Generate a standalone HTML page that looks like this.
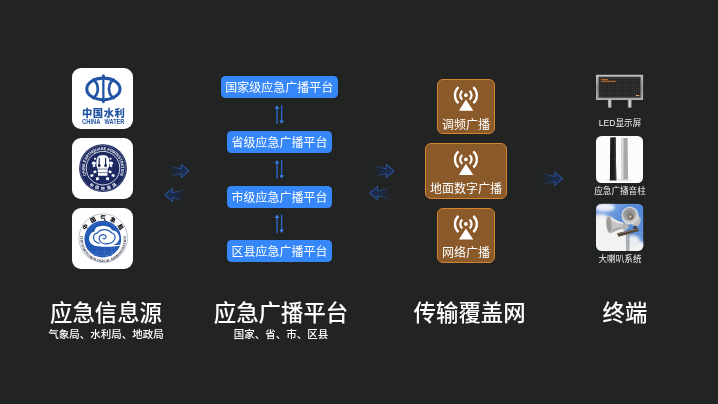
<!DOCTYPE html>
<html lang="zh-CN">
<head>
<meta charset="utf-8">
<title>应急广播体系</title>
<style>
html,body{margin:0;padding:0;}
body{width:718px;height:404px;background:#222424;overflow:hidden;position:relative;
  font-family:"Liberation Sans","Noto Sans CJK SC",sans-serif;color:#fff;}
#stage{position:absolute;left:0;top:0;width:718px;height:404px;will-change:transform;}
.abs{position:absolute;}
.tile{position:absolute;background:#fff;border-radius:9px;overflow:hidden;}
.bbox{position:absolute;height:21.7px;line-height:24.4px;background:#3687f9;border-radius:4.5px;
  font-size:12px;text-align:center;color:#fff;white-space:nowrap;}
.obox{position:absolute;box-sizing:border-box;background:#8b5a2b;border:1.2px solid #d6842f;border-radius:6px;}
.obox .lbl{position:absolute;left:0;right:0;text-align:center;font-size:12px;line-height:14px;white-space:nowrap;color:#fff;}
.obox svg{position:absolute;}
.tlabel{position:absolute;font-size:8.6px;line-height:10px;font-weight:400;text-align:center;white-space:nowrap;color:#f2f2f2;}
.h1{position:absolute;font-size:22.4px;line-height:26px;text-align:center;white-space:nowrap;font-weight:500;color:#fff;}
.h2{position:absolute;font-size:10.5px;line-height:13px;text-align:center;white-space:nowrap;color:#fff;font-weight:500;}
</style>
</head>
<body>
<div id="stage">

<!-- ===== column 1 : source logos ===== -->
<div class="tile" id="t1" style="left:72px;top:67.6px;width:61.2px;height:61px;"></div>
<div class="tile" id="t2" style="left:72px;top:137.8px;width:61.2px;height:60.9px;"></div>
<div class="tile" id="t3" style="left:72px;top:207.5px;width:61.2px;height:61.3px;"></div>

<!-- ===== column 2 : platform boxes ===== -->
<div class="bbox" style="left:220.7px;top:76.2px;width:117.3px;">国家级应急广播平台</div>
<div class="bbox" style="left:226.7px;top:131.2px;width:105.4px;">省级应急广播平台</div>
<div class="bbox" style="left:226.7px;top:185.9px;width:105.4px;">市级应急广播平台</div>
<div class="bbox" style="left:226.7px;top:240.2px;width:105.4px;">区县应急广播平台</div>

<!-- ===== column 3 : transmission ===== -->
<div class="obox" style="left:437.1px;top:79px;width:57.6px;height:55.3px;"><div class="lbl" style="top:37.5px;">调频广播</div></div>
<div class="obox" style="left:425.3px;top:143px;width:81.4px;height:55.7px;"><div class="lbl" style="top:37.5px;">地面数字广播</div></div>
<div class="obox" style="left:437.1px;top:207.5px;width:57.6px;height:55.6px;"><div class="lbl" style="top:37.8px;">网络广播</div></div>

<!-- ===== column 4 : terminals ===== -->
<div class="tlabel" style="left:580px;width:80px;top:117.5px;">LED显示屏</div>
<div class="tile" id="e2" style="left:596px;top:135.7px;width:47.4px;height:47.4px;border-radius:5.5px;background:#fcfcfc;"></div>
<div class="tlabel" style="left:580px;width:80px;top:185.6px;">应急广播音柱</div>
<div class="tlabel" style="left:580px;width:80px;top:254.3px;">大喇叭系统</div>

<!-- ===== headings ===== -->
<div class="h1" style="left:26px;width:160px;top:301px;">应急信息源</div>
<div class="h2" style="left:26px;width:160px;top:328px;">气象局、水利局、地政局</div>
<div class="h1" style="left:201px;width:160px;top:301px;">应急广播平台</div>
<div class="h2" style="left:201px;width:160px;top:328px;">国家、省、市、区县</div>
<div class="h1" style="left:389.6px;width:160px;top:301px;">传输覆盖网</div>
<div class="h1" style="left:545px;width:160px;top:301px;">终端</div>

<!-- ===== vector overlay ===== -->
<svg class="abs" id="ov" style="left:0;top:0;" width="718" height="404" viewBox="0 0 718 404">
<defs>
  <linearGradient id="gf" x1="0" y1="0" x2="1" y2="0">
    <stop offset="0.06" stop-color="#1c273e" stop-opacity="0"/>
    <stop offset="0.32" stop-color="#1c273e" stop-opacity="0.6"/>
    <stop offset="0.6" stop-color="#1c2a48" stop-opacity="1"/>
    <stop offset="1" stop-color="#1d2f56" stop-opacity="1"/>
  </linearGradient>
  <linearGradient id="gs" x1="0" y1="0" x2="1" y2="0">
    <stop offset="0" stop-color="#2b62c4" stop-opacity="0.05"/>
    <stop offset="0.18" stop-color="#2b62c4" stop-opacity="0.3"/>
    <stop offset="0.45" stop-color="#2b62c4" stop-opacity="0.7"/>
    <stop offset="0.64" stop-color="#2d68cf" stop-opacity="0.9"/>
    <stop offset="1" stop-color="#3070de" stop-opacity="1"/>
  </linearGradient>
  <g id="harrow">
    <path d="M2,2.1 Q9,4.9 15.3,5.7 L15.3,1.2 L23,7.9 L15.3,14.6 L15.3,10.7 Q9,11.6 2,14.6 Z" fill="url(#gf)" stroke="none"/>
    <path d="M2,2.1 Q9,4.9 15.3,5.7 L15.3,1.2 L23,7.9 L15.3,14.6 L15.3,10.7 Q9,11.6 2,14.6" fill="none" stroke="url(#gs)" stroke-width="0.8" stroke-linejoin="miter"/>
    <g fill="#3a5f9e" fill-opacity="0.35">
      <circle cx="3.2" cy="4.6" r="0.35"/><circle cx="4.6" cy="6.6" r="0.35"/><circle cx="3.6" cy="8.6" r="0.35"/>
      <circle cx="4.8" cy="10.6" r="0.35"/><circle cx="3.2" cy="12.4" r="0.35"/><circle cx="6.4" cy="5.4" r="0.35"/>
      <circle cx="6.6" cy="8" r="0.35"/><circle cx="6.4" cy="11" r="0.35"/><circle cx="8.4" cy="6.6" r="0.35"/>
      <circle cx="8.6" cy="9.6" r="0.35"/><circle cx="10.4" cy="7.4" r="0.35"/><circle cx="10.6" cy="9.4" r="0.35"/>
      <circle cx="12.4" cy="8.2" r="0.35"/><circle cx="1.6" cy="2.4" r="0.35"/><circle cx="1.4" cy="14.2" r="0.35"/>
    </g>
  </g>
  <g id="varrow" stroke="none">
    <rect x="-0.7" y="1.5" width="1.4" height="17" fill="#2c63c0"/>
    <path d="M0,0 L2.3,3.4 L-2.3,3.4 Z" fill="#3b82ee"/>
  </g>
  <g id="ant" fill="none" stroke="#fff" stroke-linecap="butt">
    <circle cx="0" cy="0" r="1.9" fill="#fff" stroke="none"/>
    <path d="M-0.2,4.4 L7.2,15.6 L-7.2,15.6 Z" fill="#fff" stroke="none" transform="translate(0.2,0)"/>
    <path d="M-3.6,-4.4 A5.7,5.7 0 0 0 -3.6,4.4" stroke-width="2.2"/>
    <path d="M3.6,-4.4 A5.7,5.7 0 0 1 3.6,4.4" stroke-width="2.2"/>
    <path d="M-7.4,-8 A10.9,10.9 0 0 0 -7.4,8" stroke-width="2.4"/>
    <path d="M7.4,-8 A10.9,10.9 0 0 1 7.4,8" stroke-width="2.4"/>
  </g>
</defs>

<!-- vertical double arrows between platform boxes -->
<g id="varrows">
  <use href="#varrow" transform="translate(277,105.4)"/>
  <use href="#varrow" transform="translate(281.6,123.8) scale(1,-1)"/>
  <use href="#varrow" transform="translate(277,160.2)"/>
  <use href="#varrow" transform="translate(281.6,178.6) scale(1,-1)"/>
  <use href="#varrow" transform="translate(277,214.6)"/>
  <use href="#varrow" transform="translate(281.6,233) scale(1,-1)"/>
</g>

<!-- horizontal fading arrows -->
<g id="harrows">
  <use href="#harrow" transform="translate(166,163)"/>
  <use href="#harrow" transform="translate(187.7,187) scale(-1,1)"/>
  <use href="#harrow" transform="translate(371,163)"/>
  <use href="#harrow" transform="translate(392.7,185.2) scale(-1,1)"/>
  <use href="#harrow" transform="translate(539.5,170.8)"/>
</g>

<!-- antenna icons -->
<g id="ants">
  <use href="#ant" transform="translate(465.9,95.2)"/>
  <use href="#ant" transform="translate(465.9,159.4)"/>
  <use href="#ant" transform="translate(465.9,224)"/>
</g>

<!-- logo 1 : China Water -->
<g id="logo1">
  <g fill="none" stroke="#2154a5">
    <ellipse cx="103.4" cy="88.9" rx="16.6" ry="10.8" stroke-width="3.1"/>
    <path d="M92.2,79.2 A11.2,11.2 0 0 1 92.2,98.6" stroke-width="2.7"/>
    <path d="M114.6,79.2 A11.2,11.2 0 0 0 114.6,98.6" stroke-width="2.7"/>
    <path d="M103.35,76 V101.8" stroke-width="2.3"/>
  </g>
  <ellipse cx="103.35" cy="76" rx="1.5" ry="1.4" fill="#2154a5"/>
  <ellipse cx="103.35" cy="101.8" rx="1.5" ry="1.4" fill="#2154a5"/>
  <text x="81.9" y="116.7" font-family="'Liberation Sans','Noto Sans CJK SC',sans-serif" font-weight="900" font-size="10.3" fill="#2154a5" textLength="43" lengthAdjust="spacing">中国水利</text>
  <text y="123.85" font-family="'Liberation Sans',sans-serif" font-weight="700" font-size="6.5" fill="#2154a5"><tspan x="82.1" textLength="18.3" lengthAdjust="spacingAndGlyphs">CHINA</tspan><tspan x="104.5" textLength="19.9" lengthAdjust="spacingAndGlyphs">WATER</tspan></text>
</g>

<!-- logo 2 : China Earthquake Administration -->
<g id="logo2" transform="translate(0,1.25)">
  <circle cx="103" cy="166.9" r="23.9" fill="#1b2960"/>
  <circle cx="103" cy="166.9" r="22.8" fill="none" stroke="#fff" stroke-width="0.4" stroke-opacity="0.55"/>
  <circle cx="103" cy="166.9" r="16.8" fill="none" stroke="#fff" stroke-width="0.8"/>
  <path id="l2top" d="M86.37,174.30 A18.2,18.2 0 1 1 119.63,174.30" fill="none"/>
  <path id="l2bot" d="M88.20,182.77 A21.7,21.7 0 0 0 117.80,182.77" fill="none"/>
  <text font-family="'Liberation Sans',sans-serif" font-weight="700" font-size="4.2" fill="#fff"><textPath href="#l2top" startOffset="50%" text-anchor="middle" textLength="71" lengthAdjust="spacingAndGlyphs">CHINA EARTHQUAKE ADMINISTRATION</textPath></text>
  <text font-family="'Liberation Sans','Noto Sans CJK SC',sans-serif" font-weight="700" font-size="3.9" fill="#fff"><textPath href="#l2bot" startOffset="50%" text-anchor="middle" textLength="29" lengthAdjust="spacing">中国地震局</textPath></text>
  <!-- seismoscope vessel -->
  <g fill="#fff">
    <path d="M96.3,161 Q96.2,154.8 100.6,154 H105.1 Q109.5,154.8 109.4,161 Q109.6,165.8 107.6,168.3 L107.4,174.6 H98 L97.8,168.3 Q95.8,165.8 96.3,161 Z"/>
    <ellipse cx="93.9" cy="162" rx="2" ry="1.7"/><ellipse cx="111.1" cy="162" rx="2" ry="1.7"/>
    <ellipse cx="95" cy="157.6" rx="1.1" ry="1"/><ellipse cx="110.5" cy="157.4" rx="1.1" ry="1"/>
    <path d="M92.6,164.2 l2.4,-0.6 l0.4,1.6 l-2.4,0.8 Z M112.4,164.2 l-2.4,-0.6 l-0.4,1.6 l2.4,0.8 Z"/>
    <path d="M93.2,170 l2.7,-0.9 l0.9,2 l-2.8,1.2 Z M111.8,170 l-2.7,-0.9 l-0.9,2 l2.8,1.2 Z"/>
    <path d="M90.2,173.6 l2.6,-0.8 l0.9,2 l-2.8,1.1 Z M114.8,173.6 l-2.6,-0.8 l-0.9,2 l2.8,1.1 Z"/>
    <path d="M95.8,176.6 l2.6,-0.8 l0.9,2.4 l-3,1 Z M109.2,176.6 l-2.6,-0.8 l-0.9,2.4 l3,1 Z"/>
  </g>
  <g stroke="#1b2960" fill="none">
    <path d="M99.2,156.4 V163.4 M105.6,156.4 V163.4" stroke-width="1.2"/>
    <path d="M98,167.8 H107.4 M98,171.4 H107.4" stroke-width="0.6"/>
  </g>
  <g fill="#1b2960"><ellipse cx="99.2" cy="164.2" rx="1.35" ry="1.7"/><ellipse cx="105.6" cy="164.2" rx="1.35" ry="1.7"/></g>
</g>

<!-- logo 3 : China Meteorological Administration -->
<g id="logo3">
  <circle cx="103.25" cy="238.15" r="24.3" fill="#fff" stroke="#6b7890" stroke-width="0.45"/>
  <clipPath id="l3c"><circle cx="102.8" cy="239.1" r="18.4"/></clipPath>
  <circle cx="102.8" cy="239.1" r="18.4" fill="#2058b4"/>
  <g clip-path="url(#l3c)">
    <g stroke="#86a6dd" stroke-width="0.35" fill="none" stroke-opacity="0.55">
      <path d="M86,249 Q103,264 120,247.5 M90,248.5 Q103,268 115,247 M96,248 L99,258 M104,248 L106,258 M111,247 L113,256 M85,252 H121 M88,255 H118"/>
      <path d="M88,230 Q103,214 119,230 M85,238 Q92,226 98,222 M121,238 Q115,226 109,222"/>
    </g>
  </g>
  <!-- cloud: white body + blue swirl -->
  <path d="M92.75,244.76 C91.59,244.00 90.35,242.98 89.74,241.75 C89.13,240.53 88.87,238.85 89.11,237.40 C89.35,235.95 90.32,234.01 91.17,233.04 C92.01,232.08 93.32,232.54 94.18,231.62 C95.03,230.69 94.84,228.48 96.31,227.50 C97.79,226.52 100.87,225.79 103.04,225.76 C105.22,225.73 107.86,226.66 109.38,227.34 C110.90,228.03 110.96,229.12 112.15,229.88 C113.34,230.63 115.30,230.54 116.50,231.86 C117.70,233.18 119.20,236.01 119.35,237.79 C119.51,239.58 118.32,241.36 117.45,242.54 C116.58,243.73 113.76,244.55 114.13,244.92 C114.50,245.29 118.22,244.96 119.67,244.76 C121.12,244.56 122.84,243.55 122.84,243.73 C122.84,243.92 121.52,245.38 119.67,245.87 C117.82,246.36 114.39,246.50 111.75,246.66 C109.11,246.82 106.34,246.87 103.84,246.82 C101.33,246.77 98.56,246.69 96.71,246.35 C94.86,246.00 93.91,245.53 92.75,244.76 Z" fill="#fff"/>
  <path d="M99.08,243.49 C98.40,243.10 95.89,242.07 94.97,241.12 C94.04,240.17 93.62,238.90 93.54,237.79 C93.46,236.69 93.81,235.31 94.49,234.47 C95.18,233.62 96.76,233.36 97.66,232.73 C98.56,232.09 98.72,231.18 99.88,230.67 C101.04,230.15 103.07,229.60 104.63,229.64 C106.18,229.68 108.14,230.44 109.22,230.91 C110.30,231.37 110.30,231.86 111.12,232.41 C111.94,232.96 113.47,233.33 114.13,234.23 C114.79,235.13 115.18,236.65 115.08,237.79 C114.97,238.94 114.25,240.25 113.49,241.12 C112.74,241.99 111.98,242.57 110.57,243.02 C109.15,243.47 106.61,243.92 105.02,243.81 C103.44,243.71 102.03,243.15 101.06,242.39 C100.10,241.62 99.44,240.25 99.24,239.22 C99.05,238.19 99.38,236.95 99.88,236.21 C100.38,235.47 101.43,234.97 102.25,234.79 C103.07,234.60 104.15,234.73 104.79,235.10 C105.42,235.47 106.08,236.40 106.05,237.00 C106.03,237.61 105.15,238.53 104.63,238.74 C104.10,238.96 103.18,238.35 102.89,238.27" fill="none" stroke="#2058b4" stroke-width="1.2" stroke-linecap="round" stroke-linejoin="round"/>
  <path id="l3top" d="M83.9,238.6 A19.1,19.1 0 0 1 122.1,238.6" fill="none"/>
  <path id="l3bot" d="M80.9,235 A22.8,22.8 0 1 0 125.7,235" fill="none"/>
  <text font-family="'Liberation Sans','Noto Sans CJK SC',sans-serif" font-weight="900" font-size="5.7" fill="#05060c"><textPath href="#l3top" startOffset="50%" text-anchor="middle" textLength="43" lengthAdjust="spacing">中国气象局</textPath></text>
  <text font-family="'Liberation Serif',serif" font-weight="700" font-size="3.5" fill="#0d1020"><textPath href="#l3bot" startOffset="50%" text-anchor="middle" textLength="78" lengthAdjust="spacingAndGlyphs">CHINA METEOROLOGICAL ADMINISTRATION</textPath></text>
</g>

<!-- terminal 1 : LED display board -->
<g id="led">
  <defs>
    <linearGradient id="frm" x1="0" y1="0" x2="0" y2="1">
      <stop offset="0" stop-color="#bababa"/><stop offset="0.5" stop-color="#858585"/><stop offset="1" stop-color="#a6a6a6"/>
    </linearGradient>
    <linearGradient id="leg" x1="0" y1="0" x2="1" y2="0">
      <stop offset="0" stop-color="#7d7d7d"/><stop offset="0.45" stop-color="#dcdcdc"/><stop offset="1" stop-color="#858585"/>
    </linearGradient>
    <pattern id="dots" x="0" y="0" width="2" height="2" patternUnits="userSpaceOnUse">
      <rect width="2" height="2" fill="#2a2a2a"/><rect x="0" y="0" width="1" height="1" fill="#373737"/><rect x="1" y="1" width="1" height="1" fill="#242424"/>
    </pattern>
  </defs>
  <rect x="607.9" y="99.5" width="3.7" height="8.1" fill="url(#leg)"/>
  <rect x="627.9" y="99.5" width="3.8" height="8.1" fill="url(#leg)"/>
  <rect x="596" y="74.7" width="47.1" height="25.4" rx="0.6" fill="url(#frm)"/>
  <rect x="596.6" y="75.3" width="45.9" height="24.2" fill="none" stroke="#dadada" stroke-width="0.5" stroke-opacity="0.55"/>
  <rect x="598.9" y="77" width="41.5" height="20.6" fill="url(#dots)"/>
  <rect x="598.9" y="77" width="41.5" height="20.6" fill="none" stroke="#555" stroke-width="0.6"/>
  <rect x="601.1" y="79.1" width="6.8" height="1" fill="#cf7429"/>
  <rect x="601.1" y="80.8" width="14.6" height="1" fill="#cf7429"/>
  <rect x="635.8" y="94.9" width="3.6" height="1.2" rx="0.4" fill="#d9a45e"/>
</g>

<!-- terminal 2 : column speakers -->
<g id="cols">
  <ellipse cx="619" cy="180.3" rx="13" ry="1" fill="#d9d9d9" fill-opacity="0.7"/>
  <path d="M610.2,137.4 L615.6,137.2 L616.3,180.3 L609.9,180.5 Z" fill="#1d1d1f"/>
  <path d="M614.2,137.3 L615.6,137.2 L616.3,180.3 L614.8,180.4 Z" fill="#3b3b3e"/>
  <circle cx="614.4" cy="159" r="0.45" fill="#9a9a9a"/>
  <path d="M621.3,138.1 L627.6,138 L628.1,179.4 L621.1,179.6 Z" fill="#a8a8a8"/>
  <path d="M621.3,138.1 L623.5,138.05 L623.4,179.55 L621.1,179.6 Z" fill="#dcdcdc"/>
  <path d="M623.7,140 V178" stroke="#cfcfcf" stroke-width="0.5" stroke-dasharray="0.6 0.9" fill="none"/>
</g>

<!-- terminal 3 : horn loudspeaker system -->
<g id="horns" transform="translate(596,203.7) scale(0.998,1.026)">
  <defs>
    <clipPath id="hc"><rect x="0" y="0" width="47.5" height="46" rx="5.5" ry="5.4"/></clipPath>
    <linearGradient id="sky" x1="0" y1="0" x2="1" y2="1">
      <stop offset="0" stop-color="#86ade4"/><stop offset="0.5" stop-color="#5288d6"/><stop offset="1" stop-color="#6896da"/>
    </linearGradient>
    <linearGradient id="pole" x1="0" y1="0" x2="1" y2="0">
      <stop offset="0" stop-color="#747a82"/><stop offset="0.5" stop-color="#c3c7cc"/><stop offset="1" stop-color="#7e848c"/>
    </linearGradient>
    <radialGradient id="bell" cx="0.45" cy="0.4" r="0.6">
      <stop offset="0" stop-color="#808080"/><stop offset="0.6" stop-color="#a4a4a4"/><stop offset="0.85" stop-color="#d6d6d6"/><stop offset="1" stop-color="#bcbcbc"/>
    </radialGradient>
    <filter id="blur1" x="-20%" y="-20%" width="140%" height="140%"><feGaussianBlur stdDeviation="1.6"/></filter>
  </defs>
  <g clip-path="url(#hc)">
    <rect x="0" y="0" width="47.5" height="46" fill="url(#sky)"/>
    <g filter="url(#blur1)" fill="#f3f3f4">
      <ellipse cx="9" cy="3.5" rx="10" ry="4.2" fill="#eef2f8"/>
      <ellipse cx="6" cy="26" rx="15" ry="15"/>
      <ellipse cx="5" cy="16" rx="8" ry="6"/>
      <ellipse cx="20" cy="41" rx="24" ry="11"/>
      <ellipse cx="41" cy="44" rx="13" ry="7.5"/>
      <ellipse cx="22" cy="31" rx="9" ry="9"/>
      <ellipse cx="37" cy="36" rx="7" ry="5.5" fill="#e9ecf1"/>
    </g>
    <!-- pole -->
    <rect x="30.4" y="28" width="3" height="19" fill="url(#pole)"/>
    <!-- back-right horn -->
    <ellipse cx="40.4" cy="17.2" rx="4.2" ry="5.6" fill="#bdbdbd" transform="rotate(20 40.4 17.2)"/>
    <!-- left horn -->
    <path d="M14.6,12.6 Q22,17.4 27.4,18.4 L28.2,23.6 Q21,25 15.6,28.6 Z" fill="#c6c6c6"/>
    <path d="M14.6,12.6 Q22,17.4 27.4,18.4 L27.6,20 Q21,19.6 14.8,16 Z" fill="#e6e6e6"/>
    <path d="M15.4,25.2 Q21,23 28,22.4 L28.2,23.6 Q21,25 15.6,28.6 Z" fill="#a9a9a9"/>
    <ellipse cx="13.4" cy="20.4" rx="3.3" ry="8.8" fill="#bdbdbd" transform="rotate(-6 13.4 20.4)"/>
    <ellipse cx="13" cy="20.4" rx="2.3" ry="7.4" fill="#9a9a9a" transform="rotate(-6 13 20.4)"/>
    <rect x="26.6" y="18.6" width="6" height="6" rx="1" fill="#b4b4b4"/>
    <!-- front horn -->
    <circle cx="34.1" cy="11.6" r="8.1" fill="url(#bell)"/>
    <circle cx="34.1" cy="11.6" r="8.1" fill="none" stroke="#e0e0e0" stroke-width="1"/>
    <circle cx="34.8" cy="13" r="2.6" fill="#6e625a"/>
    <circle cx="34.4" cy="12.6" r="1.3" fill="#c9b9a4"/>
    <circle cx="33.8" cy="6" r="0.5" fill="#d98a3a"/>
    <!-- platform -->
    <path d="M21,28.8 L42.2,24 L43,26.6 L22.6,32.2 Z" fill="#56473a"/>
    <path d="M21.2,29 L42.2,24.2 L42.4,24.9 L21.4,29.8 Z" fill="#8b7762"/>
    <rect x="37.6" y="21.6" width="3.2" height="3" fill="#3d3d40"/>
  </g>
</g>

</svg>

</div>
</body>
</html>
